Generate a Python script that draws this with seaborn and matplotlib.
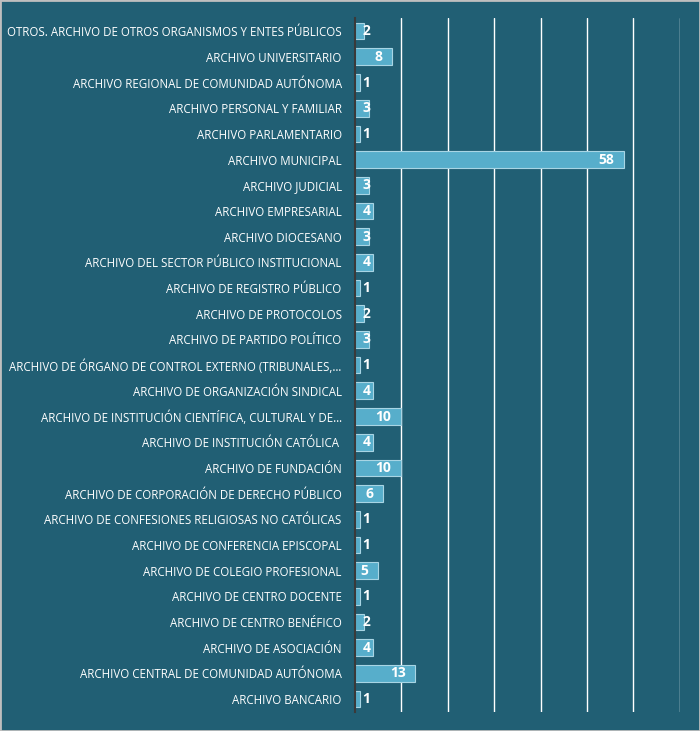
import pandas as pd
import matplotlib
matplotlib.use('Agg')
import matplotlib.pyplot as plt
import seaborn as sns

categorias = [
    'OTROS. ARCHIVO DE OTROS ORGANISMOS Y ENTES PÚBLICOS',
    'ARCHIVO UNIVERSITARIO',
    'ARCHIVO REGIONAL DE COMUNIDAD AUTÓNOMA',
    'ARCHIVO PERSONAL Y FAMILIAR',
    'ARCHIVO PARLAMENTARIO',
    'ARCHIVO MUNICIPAL',
    'ARCHIVO JUDICIAL',
    'ARCHIVO EMPRESARIAL',
    'ARCHIVO DIOCESANO',
    'ARCHIVO DEL SECTOR PÚBLICO INSTITUCIONAL',
    'ARCHIVO DE REGISTRO PÚBLICO',
    'ARCHIVO DE PROTOCOLOS',
    'ARCHIVO DE PARTIDO POLÍTICO',
    'ARCHIVO DE ÓRGANO DE CONTROL EXTERNO (TRIBUNALES,…',
    'ARCHIVO DE ORGANIZACIÓN SINDICAL',
    'ARCHIVO DE INSTITUCIÓN CIENTÍFICA, CULTURAL Y DE…',
    'ARCHIVO DE INSTITUCIÓN CATÓLICA ',
    'ARCHIVO DE FUNDACIÓN',
    'ARCHIVO DE CORPORACIÓN DE DERECHO PÚBLICO',
    'ARCHIVO DE CONFESIONES RELIGIOSAS NO CATÓLICAS',
    'ARCHIVO DE CONFERENCIA EPISCOPAL',
    'ARCHIVO DE COLEGIO PROFESIONAL',
    'ARCHIVO DE CENTRO DOCENTE',
    'ARCHIVO DE CENTRO BENÉFICO',
    'ARCHIVO DE ASOCIACIÓN',
    'ARCHIVO CENTRAL DE COMUNIDAD AUTÓNOMA',
    'ARCHIVO BANCARIO',
]
valores = [2, 8, 1, 3, 1, 58, 3, 4, 3, 4, 1, 2, 3, 1, 4, 10, 4, 10, 6, 1, 1, 5, 1, 2, 4, 13, 1]

fondo = '#215F74'
barra = '#57AECB'

df = pd.DataFrame({'categoria': categorias, 'valor': valores})

sns.set_style('white')
plt.rcParams['font.family'] = ['Open Sans', 'DejaVu Sans']

fig = plt.figure(figsize=(7, 7.31), dpi=100, facecolor=fondo)
ax = fig.add_axes([0.507, 0.026, 0.464, 0.949])
ax.set_facecolor(fondo)

sns.barplot(data=df, x='valor', y='categoria', orient='h', color=barra,
            saturation=1, width=0.65, edgecolor='#A8D5E4', linewidth=0.8, ax=ax)

ax.set_xlim(0, 70)
ax.set_xticks(range(10, 71, 10))
ax.grid(axis='x', color='white', linewidth=1)
ax.set_axisbelow(True)
ax.tick_params(axis='x', length=0, labelbottom=False)
ax.tick_params(axis='y', length=0, labelsize=8.3, colors='white', pad=9.5)
ax.set_xlabel('')
ax.set_ylabel('')
for s in ['top', 'right', 'bottom']:
    ax.spines[s].set_visible(False)
ax.spines['left'].set_color('#3A3A3A')
ax.spines['left'].set_linewidth(1.5)

# etiquetas de valor
for i, v in enumerate(valores):
    if v >= 5:
        ax.annotate(str(v), (v, i), xytext=(-7, 0), textcoords='offset points',
                    ha='right', va='center', color='white', fontsize=10, fontweight='bold')
    else:
        ax.annotate(str(v), (0, i), xytext=(5.5, 0), textcoords='offset points',
                    ha='left', va='center', color='white', fontsize=10, fontweight='bold')

# borde exterior
fig.patches.append(plt.Rectangle((0, 0), 1, 1, transform=fig.transFigure,
                                 fill=False, edgecolor='#BFBFBF', linewidth=2))

plt.savefig('out.png', dpi=100, facecolor=fondo)
plt.close()
